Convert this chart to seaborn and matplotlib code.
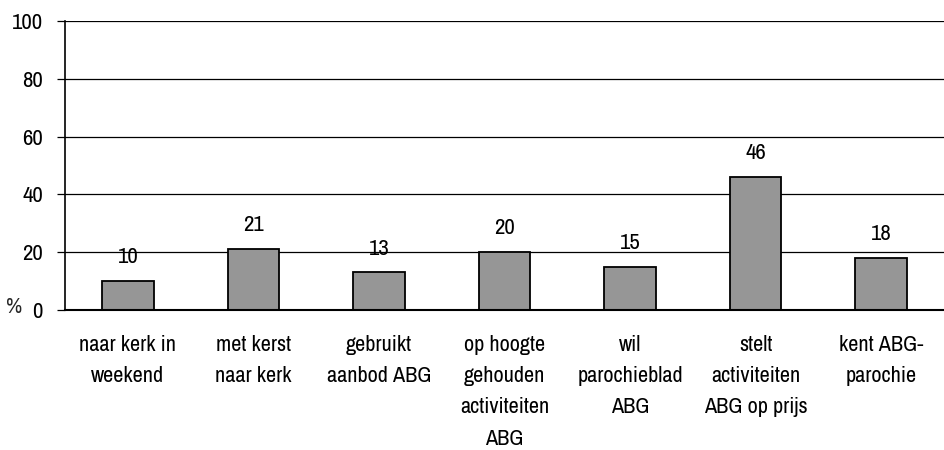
import pandas as pd
import matplotlib.pyplot as plt
import seaborn as sns
from matplotlib import font_manager

# categories and values
categories = [
    "naar kerk in\nweekend",
    "met kerst\nnaar kerk",
    "gebruikt\naanbod ABG",
    "op hoogte\ngehouden\nactiviteiten\nABG",
    "wil\nparochieblad\nABG",
    "stelt\nactiviteiten\nABG op prijs",
    "kent ABG-\nparochie",
]
values = [10, 21, 13, 20, 15, 46, 18]
y_ticks = [0, 20, 40, 60, 80, 100]

df = pd.DataFrame({"categorie": categories, "pct": values})

sns.set_theme(style="white")

# pick a narrow font if one is installed
names = sorted({f.name for f in font_manager.fontManager.ttflist})
narrow = [n for n in names if "Narrow" in n or "Condensed" in n]
family = narrow[0] if narrow else "Liberation Sans"
plt.rcParams['font.family'] = [family, 'DejaVu Sans']

fs = 16

fig = plt.figure(figsize=(9.44, 4.5), dpi=100)
ax = fig.add_axes([0.069, 0.311, 0.931, 0.642])

sns.barplot(data=df, x="categorie", y="pct", color="#969696", saturation=1,
            width=0.41, edgecolor="black", linewidth=1.3, ax=ax)

ax.set_ylim(0, 100)
ax.set_xlim(-0.5, len(categories) - 0.5)
ax.set_yticks(y_ticks)
ax.set_yticklabels([str(t) for t in y_ticks], fontsize=fs + 0.5, color="black")
ax.set_xticks(range(len(categories)))
ax.set_xticklabels(categories, fontsize=fs, color="black", linespacing=1.7, va="top")
ax.set_xlabel("")
ax.set_ylabel("")

# horizontal gridlines
for t in y_ticks[1:]:
    ax.axhline(t, color="black", linewidth=0.9, zorder=0)

ax.spines["top"].set_visible(False)
ax.spines["right"].set_visible(False)
ax.spines["left"].set_color("black")
ax.spines["bottom"].set_color("black")
ax.spines["left"].set_linewidth(1.2)
ax.spines["bottom"].set_linewidth(1.5)
ax.tick_params(axis="y", length=6, width=0.9, color="black", pad=10, left=True)
ax.tick_params(axis="x", length=0, pad=18)

# value labels above the bars
for i, v in enumerate(values):
    ax.annotate(str(v), (i, v), xytext=(0, 10), textcoords="offset points",
                ha="center", va="bottom", fontsize=fs + 0.5, color="black")

fig.text(0.015, 0.318, "%", fontsize=fs, ha="center", va="center")

fig.savefig("out.png", dpi=100)
